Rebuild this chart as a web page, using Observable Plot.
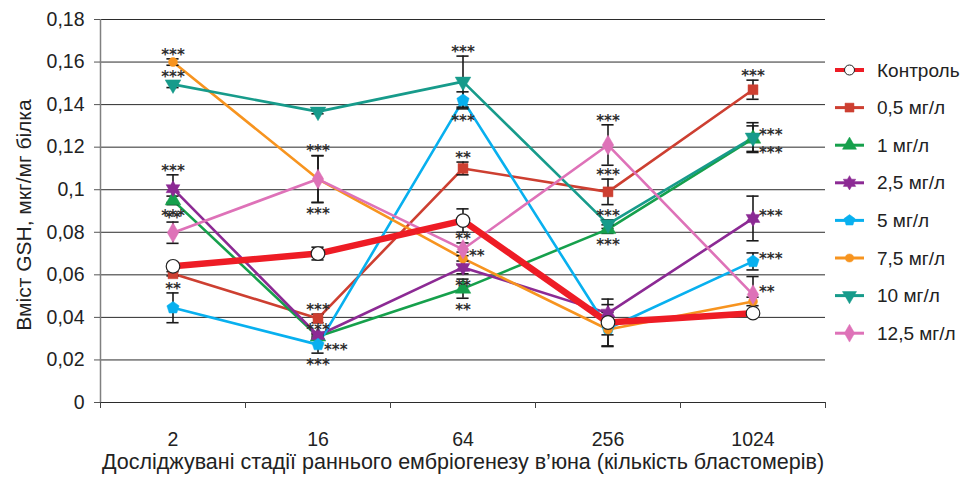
<!DOCTYPE html>
<html>
<head>
<meta charset="utf-8">
<script src="https://cdn.jsdelivr.net/npm/d3@7"></script>
<script src="https://cdn.jsdelivr.net/npm/@observablehq/plot@0.6"></script>
<style>
  body { margin: 0; background: #fff; }
  #chart { width: 964px; height: 483px; }
  svg { font-family: "Liberation Sans", Arial, sans-serif; }
</style>
</head>
<body>
<div id="chart"></div>
<script>
// ---------- data ----------
const stages = ["2", "16", "64", "256", "1024"];
const yTicks = [0, 0.02, 0.04, 0.06, 0.08, 0.1, 0.12, 0.14, 0.16, 0.18];
const yTitle = "Вміст GSH, мкг/мг білка";
const xTitle = "Досліджувані стадії раннього ембріогенезу в’юна (кількість бластомерів)";

const seriesNames = ["Контроль", "0,5 мг/л", "1 мг/л", "2,5 мг/л", "5 мг/л", "7,5 мг/л", "10 мг/л", "12,5 мг/л"];

const control   = [0.064, 0.070, 0.0855, 0.0376, 0.042];
const controlEr = [0.001, 0.003, 0.0055, 0.011, 0.001];

const c05   = [0.0605, 0.0395, 0.110, 0.099, 0.147];
const c05Er = [0.001, 0.002, 0.003, 0.006, 0.0045];
const c05Sig = ["", "***", "**", "***", "***"];
const c05Pos = ["", "above", "above", "above", "above"];

const c1   = [0.095, 0.031, 0.0535, 0.0815, 0.124];
const c1Er = [0.002, 0.001, 0.0045, 0.002, 0.006];
const c1Sig = ["***", "***", "**", "***", "***"];
const c1Pos = ["below", "above", "below", "below", "rightBelow"];

const c25   = [0.1005, 0.0315, 0.0635, 0.042, 0.0865];
const c25Er = [0.0065, 0.001, 0.003, 0.004, 0.0105];
const c25Sig = ["***", "***", "**", "", "***"];
const c25Pos = ["above", "rightBelow", "below", "", "right"];

const c5   = [0.0445, 0.0272, 0.142, 0.0348, 0.0663];
const c5Er = [0.007, 0.004, 0.004, 0.003, 0.004];
const c5Sig = ["**", "***", "***", "", "***"];
const c5Pos = ["above", "below", "below", "", "right"];

const c75   = [0.160, 0.105, 0.0677, 0.0343, 0.0475];
const c75Er = [0.0015, 0.011, 0.003, 0.008, 0.002];
const c75Sig = ["***", "***", "**", "", ""];
const c75Pos = ["above", "above", "right", "", ""];

const c10   = [0.1495, 0.1367, 0.1508, 0.0838, 0.1245];
const c10Er = [0.0015, 0.001, 0.012, 0.002, 0.007];
const c10Sig = ["***", "", "***", "***", "***"];
const c10Pos = ["above", "", "above", "above", "right"];

const c125   = [0.0798, 0.105, 0.072, 0.121, 0.0507];
const c125Er = [0.005, 0.011, 0.003, 0.0095, 0.0085];
const c125Sig = ["**", "***", "**", "***", "**"];
const c125Pos = ["above", "below", "above", "above", "right"];

// ---------- symbols ----------
const sqrt3 = Math.sqrt(3);
const triangleDown = {
  draw(ctx, size) {
    const y = -Math.sqrt(size / (sqrt3 * 3));
    ctx.moveTo(0, -y * 2);
    ctx.lineTo(-sqrt3 * y, y);
    ctx.lineTo(sqrt3 * y, y);
    ctx.closePath();
  }
};
const pentagon = {
  draw(ctx, size) {
    const r = Math.sqrt(size / (2.5 * Math.sin(2 * Math.PI / 5)));
    for (let k = 0; k < 5; k++) {
      const a = -Math.PI / 2 + k * 2 * Math.PI / 5;
      const px = r * Math.cos(a), py = r * Math.sin(a);
      if (k === 0) ctx.moveTo(px, py); else ctx.lineTo(px, py);
    }
    ctx.closePath();
  }
};
const star6 = {
  draw(ctx, size) {
    const R = Math.sqrt(size / 1.9), r = R * 0.58;
    for (let k = 0; k < 12; k++) {
      const a = -Math.PI / 2 + k * Math.PI / 6;
      const rr = k % 2 === 0 ? R : r;
      const px = rr * Math.cos(a), py = rr * Math.sin(a);
      if (k === 0) ctx.moveTo(px, py); else ctx.lineTo(px, py);
    }
    ctx.closePath();
  }
};

const series = [
  {name: seriesNames[1], v: c05,  e: c05Er,  sig: c05Sig,  pos: c05Pos,  color: "#cd3f31", symbol: "square",   r: 5.6},
  {name: seriesNames[2], v: c1,   e: c1Er,   sig: c1Sig,   pos: c1Pos,   color: "#16a04c", symbol: "triangle", r: 5.8},
  {name: seriesNames[3], v: c25,  e: c25Er,  sig: c25Sig,  pos: c25Pos,  color: "#8c2a94", symbol: star6,      r: 6.2},
  {name: seriesNames[4], v: c5,   e: c5Er,   sig: c5Sig,   pos: c5Pos,   color: "#08b0ef", symbol: pentagon,   r: 5.6},
  {name: seriesNames[5], v: c75,  e: c75Er,  sig: c75Sig,  pos: c75Pos,  color: "#f7941f", symbol: "circle",   r: 4.5},
  {name: seriesNames[6], v: c10,  e: c10Er,  sig: c10Sig,  pos: c10Pos,  color: "#179b8b", symbol: triangleDown, r: 5.8},
  {name: seriesNames[7], v: c125, e: c125Er, sig: c125Sig, pos: c125Pos, color: "#de72b8", symbol: "diamond",  r: 6}
];

const rowsOf = (s) => s.v.map((v, i) => ({i, v, e: s.e[i], sig: s.sig ? s.sig[i] : "", pos: s.pos ? s.pos[i] : ""}));
const ctrlRows = rowsOf({v: control, e: controlEr});
const allRows = series.flatMap(rowsOf).concat(ctrlRows);
const errRows = allRows.filter(d => d.e > 0);
const starRows = series.flatMap(rowsOf).filter(d => d.sig);

const fmt = d => String(+d.toFixed(2)).replace(".", ",");
const capHalf = 0.042;
const font = "Liberation Sans, Arial, sans-serif";

const marks = [
  Plot.ruleY(yTicks, {stroke: "#2b2b2b", strokeWidth: 1}),
  Plot.ruleX([-0.5], {stroke: "#808080", strokeWidth: 1.5}),
  Plot.axisY({ticks: yTicks, tickFormat: fmt, tickSize: 6, tickPadding: 10, fontSize: 19.5, label: null, stroke: "#555", fill: "#222"}),
  Plot.axisX({ticks: [-0.5, 0.5, 1.5, 2.5, 3.5, 4.5], tickFormat: () => "", tickSize: 6, label: null, stroke: "#444"}),
  Plot.axisX({ticks: [0, 1, 2, 3, 4], tickFormat: i => stages[i], tickSize: 0, tickPadding: 30, fontSize: 19.5, label: null, fill: "#222"}),
  Plot.text([xTitle], {frameAnchor: "bottom", textAnchor: "middle", dy: 66, fontSize: 21.5, fill: "#222"}),
  Plot.text([yTitle], {frameAnchor: "left", textAnchor: "middle", rotate: -90, dx: -76, dy: 4, fontSize: 21, fill: "#222"})
];

for (const s of series) {
  marks.push(Plot.line(rowsOf(s), {x: "i", y: "v", stroke: s.color, strokeWidth: 2.6}));
}
marks.push(Plot.line(ctrlRows, {x: "i", y: "v", stroke: "#ee1c25", strokeWidth: 6.5}));

marks.push(Plot.ruleX(errRows, {x: "i", y1: d => d.v - d.e, y2: d => d.v + d.e, stroke: "#1a1a1a", strokeWidth: 1.6}));
marks.push(Plot.ruleY(errRows, {y: d => d.v + d.e, x1: d => d.i - capHalf, x2: d => d.i + capHalf, stroke: "#1a1a1a", strokeWidth: 1.6}));
marks.push(Plot.ruleY(errRows, {y: d => d.v - d.e, x1: d => d.i - capHalf, x2: d => d.i + capHalf, stroke: "#1a1a1a", strokeWidth: 1.6}));

for (const s of series) {
  marks.push(Plot.dot(rowsOf(s), {x: "i", y: "v", symbol: s.symbol, r: s.r, fill: s.color, stroke: s.color, strokeWidth: 0.5}));
}
marks.push(Plot.dot(ctrlRows, {x: "i", y: "v", r: 6.8, fill: "white", stroke: "#222", strokeWidth: 1.2}));

const starStyle = {fontSize: 15, fontFamily: "DejaVu Sans, sans-serif", fontWeight: "bold", fill: "#2e2e2e"};
marks.push(Plot.text(starRows.filter(d => d.pos === "above"), {x: "i", y: d => d.v + d.e, text: "sig", dy: -4, ...starStyle}));
marks.push(Plot.text(starRows.filter(d => d.pos === "below"), {x: "i", y: d => d.v - d.e, text: "sig", dy: 12, ...starStyle}));
marks.push(Plot.text(starRows.filter(d => d.pos === "right"), {x: "i", y: "v", text: "sig", dx: 6, dy: -2, textAnchor: "start", ...starStyle}));
marks.push(Plot.text(starRows.filter(d => d.pos === "rightBelow"), {x: "i", y: "v", text: "sig", dx: 6, dy: 15, textAnchor: "start", ...starStyle}));

const chart = Plot.plot({
  width: 964,
  height: 483,
  marginTop: 19,
  marginBottom: 81,
  marginLeft: 100,
  marginRight: 139,
  x: {domain: [-0.5, 4.5]},
  y: {domain: [0, 0.18]},
  style: {fontFamily: font, fontSize: "18px", background: "white", color: "#222"},
  marks
});

// ---------- legend (inside the same SVG, right side) ----------
const svg = d3.select(chart);
const legend = svg.append("g").attr("font-family", font).attr("font-size", 19).attr("text-anchor", "start");
const symbolMap = {square: d3.symbolSquare, triangle: d3.symbolTriangle, circle: d3.symbolCircle, diamond: d3.symbolDiamond};
const legendItems = [{name: seriesNames[0], color: "#ee1c25", symbol: d3.symbolCircle, control: true, r: 5}]
  .concat(series.map(s => ({name: s.name, color: s.color, symbol: typeof s.symbol === "string" ? symbolMap[s.symbol] : s.symbol, r: s.r * 0.9})));
legendItems.forEach((it, k) => {
  const gy = 70 + k * 37.6;
  const g = legend.append("g").attr("transform", `translate(0,${gy})`);
  g.append("line").attr("x1", 835).attr("x2", 864).attr("y1", 0).attr("y2", 0)
    .attr("stroke", it.color).attr("stroke-width", it.control ? 4 : 3);
  g.append("path").attr("transform", "translate(849.5,0)")
    .attr("d", d3.symbol(it.symbol, Math.PI * it.r * it.r)())
    .attr("fill", it.control ? "white" : it.color)
    .attr("stroke", it.control ? "#222" : it.color)
    .attr("stroke-width", it.control ? 1 : 0.5);
  g.append("text").attr("x", 877).attr("y", 0).attr("dy", "0.35em").attr("fill", "#222").text(it.name);
});

document.getElementById("chart").appendChild(chart);
</script>
</body>
</html>
